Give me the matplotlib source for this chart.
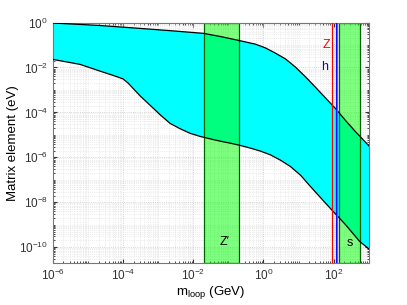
import numpy as np
import matplotlib
matplotlib.use("Agg")
import matplotlib.pyplot as plt
from matplotlib.ticker import LogLocator, NullFormatter

plt.rcParams['font.family'] = ['Liberation Sans', 'DejaVu Sans']
plt.rcParams['mathtext.fontset'] = 'custom'
plt.rcParams['mathtext.rm'] = 'Liberation Sans'
plt.rcParams['mathtext.it'] = 'Liberation Sans:italic'

# upper / lower edge of the allowed band (log10 values)
upper_logm = [-6.00, -4.66, -3.51, -2.66, -1.71, -1.23, -0.69, -0.23, 0.06, 0.34,
              0.63, 0.91, 1.20, 1.49, 1.77, 2.06, 2.34, 2.63, 3.03]
upper_logy = [-0.02, -0.13, -0.26, -0.36, -0.48, -0.62, -0.80, -0.96, -1.13, -1.36,
              -1.62, -1.98, -2.42, -2.89, -3.36, -3.84, -4.36, -4.87, -5.53]
lower_logm = [-6.00, -5.23, -4.66, -4.23, -4.00, -3.86, -3.51, -2.94, -2.66, -2.37,
              -2.09, -1.80, -1.51, -1.23, -0.94, -0.66, -0.37, -0.09, 0.20, 0.49,
              0.77, 1.06, 1.34, 1.63, 1.94, 2.34, 2.74, 3.03]
lower_logy = [-1.64, -1.86, -2.16, -2.38, -2.51, -2.69, -3.27, -4.11, -4.49, -4.73,
              -4.93, -5.07, -5.18, -5.28, -5.37, -5.47, -5.59, -5.72, -5.89, -6.13,
              -6.41, -6.80, -7.30, -7.80, -8.33, -9.00, -9.74, -10.11]

zp_band = (0.02, 0.2)
s_band = (145, 560)
m_Z = 91.2
m_h = [116, 126]

xu = 10 ** np.array(upper_logm)
yu = 10 ** np.array(upper_logy)
xl = 10 ** np.array(lower_logm)
yl = 10 ** np.array(lower_logy)

fig = plt.figure(figsize=(4.07, 3.05), dpi=100)
ax = fig.add_axes([0.130, 0.138, 0.776, 0.788])
ax.set_xscale('log')
ax.set_yscale('log')
ax.set_xlim(1e-6, 1e3)
ax.set_ylim(2e-11, 1)

ax.fill(np.concatenate([xu, xl[::-1]]), np.concatenate([yu, yl[::-1]]),
        color='cyan', lw=0, zorder=1)
ax.plot(xu, yu, color='black', lw=0.9, zorder=3)
ax.plot(xl, yl, color='black', lw=0.9, zorder=3)

for band in (zp_band, s_band):
    ax.axvspan(band[0], band[1], facecolor=(0, 1, 0, 0.5), edgecolor='#006400', lw=0.9, zorder=2)

ax.axvline(m_Z, color='red', lw=0.9, zorder=4)
ax.axvline(m_h[0], color='blue', lw=0.9, zorder=4)
ax.axvline(m_h[1], color='#6a5acd', lw=0.9, zorder=4)

ax.text(63, 0.1, 'Z', color='red', fontsize=9, ha='center', va='center')
ax.text(55, 0.0105, 'h', color='blue', fontsize=9, ha='center', va='center')
ax.text(0.078, 1.7e-10, 'Z\u2032', color='black', fontsize=9, ha='center', va='center',
        family=['Liberation Sans', 'DejaVu Sans'])
ax.text(290, 1.6e-10, 's', color='black', fontsize=9, ha='center', va='center')

ax.set_xticks([1e-6, 1e-4, 1e-2, 1e0, 1e2])
ax.set_yticks([1e-10, 1e-8, 1e-6, 1e-4, 1e-2, 1e0])
ax.xaxis.set_minor_locator(LogLocator(base=10, subs=np.arange(1, 10), numticks=100))
ax.yaxis.set_minor_locator(LogLocator(base=10, subs=np.arange(1, 10), numticks=100))
ax.xaxis.set_minor_formatter(NullFormatter())
ax.yaxis.set_minor_formatter(NullFormatter())
ax.grid(True, which='major', color='#c8c8c8', ls=':', lw=0.6, zorder=0)
ax.grid(True, which='minor', color='#dddddd', ls=':', lw=0.5, zorder=0)
ax.set_axisbelow(True)
ax.tick_params(which='both', direction='in', top=True, right=True, labelsize=8.5, colors='#333333')
ax.tick_params(which='major', length=3)
ax.tick_params(which='minor', length=1.5)
for sp in ax.spines.values():
    sp.set_color('#777777')
    sp.set_linewidth(0.8)

ax.set_xlabel('m$_{\\rm loop}$ (GeV)', fontsize=9.5, labelpad=1)
ax.set_ylabel('Matrix element (eV)', fontsize=9.5, labelpad=0)

fig.savefig('out.png', dpi=100)
